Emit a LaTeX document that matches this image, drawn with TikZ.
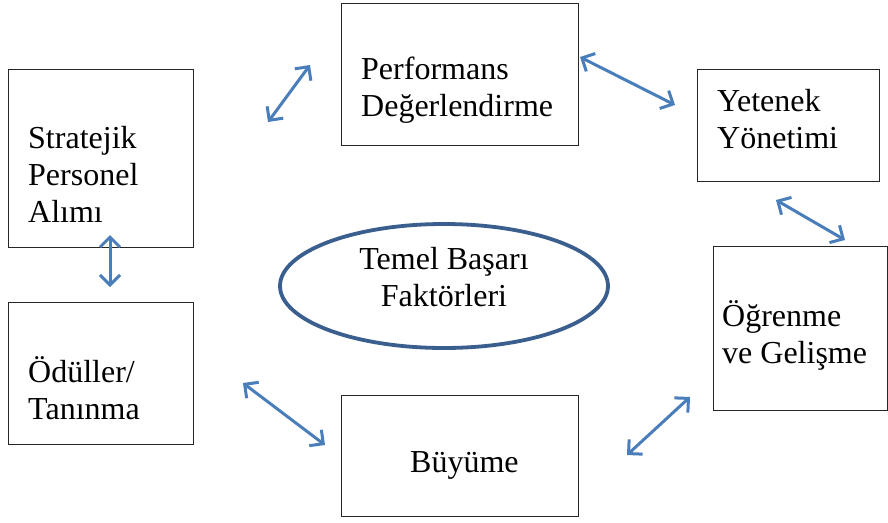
\documentclass[tikz,border=0pt]{standalone}
\usepackage{fontspec}
\setmainfont{Liberation Serif}
\usetikzlibrary{arrows.meta,shapes.geometric}
\definecolor{arrowblue}{HTML}{4A7EBB}
\definecolor{ellblue}{HTML}{3A5F8F}
\tikzset{
  box/.style={draw=black!85, line width=1.3pt, anchor=north west, inner sep=0pt},
  lbl/.style={anchor=west, align=left, inner sep=0pt, font=\fontsize{32}{37}\selectfont},
  clbl/.style={anchor=center, align=center, inner sep=0pt, font=\fontsize{32}{37}\selectfont},
  biarrow/.style={draw=arrowblue, line width=3pt, {Straight Barb[length=10pt,width=20pt]}-{Straight Barb[length=10pt,width=20pt]}}
}
\begin{document}
\begin{tikzpicture}[x=1pt,y=-1pt]
\useasboundingbox[fill=white] (0,0) rectangle (888,522);
% boxes
\node[box, minimum width=185pt, minimum height=178pt] (sp) at (8,69) {};
\node[box, minimum width=237pt, minimum height=142pt] (pd) at (341,3) {};
\node[box, minimum width=182pt, minimum height=112pt] (yy) at (697,69) {};
\node[box, minimum width=174pt, minimum height=164pt] (og) at (713,246) {};
\node[box, minimum width=185pt, minimum height=142pt] (ot) at (8,302) {};
\node[box, minimum width=237pt, minimum height=121pt] (by) at (341,395) {};
\node[draw=ellblue, line width=3.8pt, ellipse, minimum width=328pt, minimum height=124pt, inner sep=0pt] (tb) at (444,286) {};
% labels
\node[lbl] (tsp) at (28,174) {Stratejik\\Personel\\Alımı};
\node[lbl] (tpd) at (361,90) {Performans\\Değerlendirme};
\node[lbl] (tyy) at (717,119) {Yetenek\\Yönetimi};
\node[lbl] (tog) at (722,335) {Öğrenme\\ve Gelişme};
\node[lbl] (tot) at (28,388) {Ödüller/\\Tanınma};
\node[lbl] (tby) at (410,465) {Büyüme};
\node[clbl] (ttb) at (444,277) {Temel Başarı\\Faktörleri};
% arrow ends
\coordinate (a1) at (268,122); \coordinate (b1) at (310,65);
\coordinate (a2) at (580,57);  \coordinate (b2) at (675,105);
\coordinate (a3) at (110,235); \coordinate (b3) at (110,287);
\coordinate (a4) at (243,383); \coordinate (b4) at (325,445);
\coordinate (a5) at (776,200); \coordinate (b5) at (845,240);
\coordinate (a6) at (627,455); \coordinate (b6) at (690,397);
\draw[biarrow] (a1) -- (b1);
\draw[biarrow] (a2) -- (b2);
\draw[biarrow] (a3) -- (b3);
\draw[biarrow] (a4) -- (b4);
\draw[biarrow] (a5) -- (b5);
\draw[biarrow] (a6) -- (b6);
\end{tikzpicture}
\end{document}
